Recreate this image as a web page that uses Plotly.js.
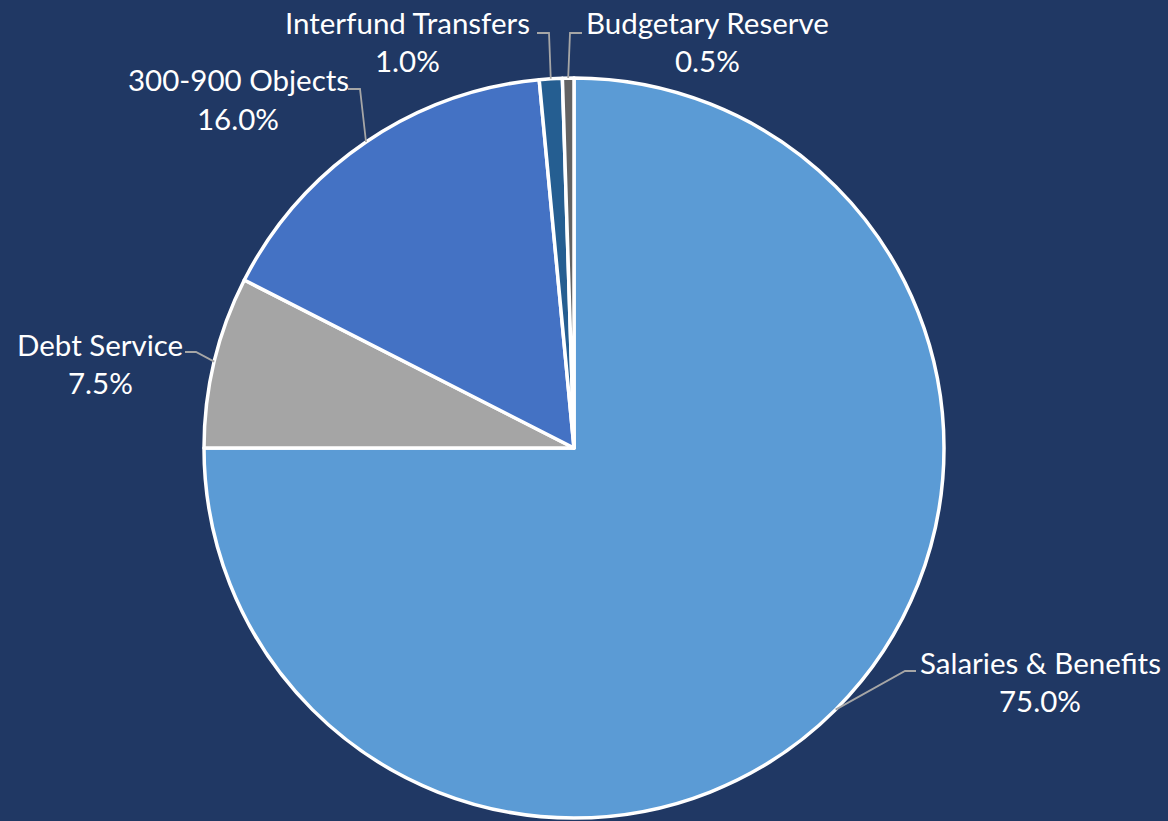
<!DOCTYPE html>
<html><head><meta charset="utf-8">
<script src="https://cdn.plot.ly/plotly-3.0.1.min.js"></script>
<style>html,body{margin:0;padding:0;background:#203864;}#chart{width:1168px;height:821px;}</style>
</head><body><div id="chart"></div>
<script>
const categories = ["Salaries & Benefits", "Debt Service", "300-900 Objects", "Interfund Transfers", "Budgetary Reserve"];
const shares = [75.0, 7.5, 16.0, 1.0, 0.5];
const sliceColors = ["#5B9BD5", "#A5A5A5", "#4472C4", "#255E91", "#636363"];

const W = 1168, H = 821;
const cx = 574, cy = 448, R = 370;
// label placements (pixel): name line center, percent line center, elbow points
const labelPos = [
  {x: 1040, y1: 662, y2: 700, elbow: [[905, 671], [916, 671]]},
  {x: 100, y1: 344, y2: 382, elbow: [[196, 352], [185, 352]]},
  {x: 238, y1: 80, y2: 118, elbow: [[360, 89], [348, 89]]},
  {x: 407, y1: 22, y2: 60, elbow: [[549, 33], [537, 33]]},
  {x: 707, y1: 22, y2: 60, elbow: [[570, 33], [582, 33]]}
];
const px = v => v / W, py = v => 1 - v / H;
const FONT = {family: "Lato", size: 29.5, color: "#FFFFFF"};

const total = shares.reduce((a, b) => a + b, 0);
const shapes = [], annotations = [];
let cum = 0;
shares.forEach((v, i) => {
  const mid = (cum + v / 2) / total * 2 * Math.PI;
  cum += v;
  const ex = cx + R * Math.sin(mid), ey = cy - R * Math.cos(mid);
  const L = labelPos[i];
  let path = `M ${px(ex)} ${py(ey)}`;
  L.elbow.forEach(p => { path += ` L ${px(p[0])} ${py(p[1])}`; });
  shapes.push({type: "path", xref: "paper", yref: "paper", path: path,
    line: {color: "#A6A6A6", width: 1.8}, layer: "above"});
  annotations.push({x: px(L.x), y: py(L.y1), xref: "paper", yref: "paper", text: categories[i],
    showarrow: false, xanchor: "center", yanchor: "middle", font: FONT});
  annotations.push({x: px(L.x), y: py(L.y2), xref: "paper", yref: "paper", text: v.toFixed(1) + "%",
    showarrow: false, xanchor: "center", yanchor: "middle", font: FONT});
});

const data = [{
  type: "pie",
  labels: categories,
  values: shares,
  sort: false,
  direction: "clockwise",
  rotation: 0,
  textinfo: "none",
  hoverinfo: "label+percent",
  marker: {colors: sliceColors, line: {color: "#FFFFFF", width: 3.5}},
  domain: {x: [(cx - R) / W, (cx + R) / W], y: [(H - cy - R) / H, (H - cy + R) / H]}
}];

const layout = {
  width: W, height: H,
  margin: {l: 0, r: 0, t: 0, b: 0},
  paper_bgcolor: "#203864",
  plot_bgcolor: "#203864",
  showlegend: false,
  shapes: shapes,
  annotations: annotations
};
Plotly.newPlot("chart", data, layout, {displayModeBar: false, staticPlot: true});
</script></body></html>
